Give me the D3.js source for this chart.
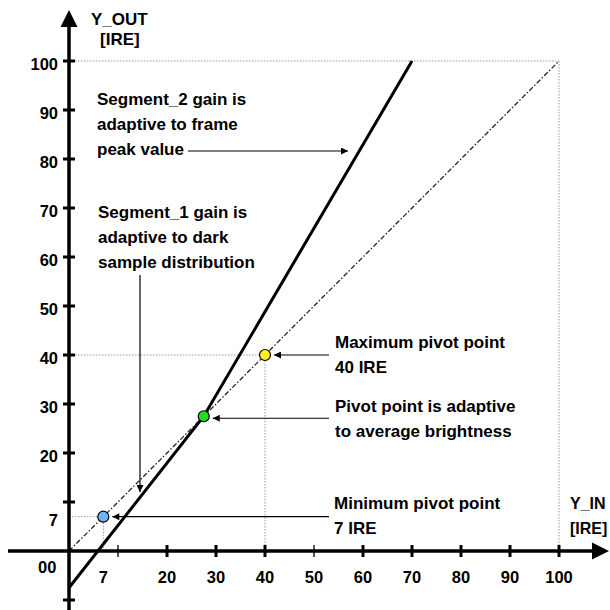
<!DOCTYPE html>
<html>
<head>
<meta charset="utf-8">
<script src="https://cdn.jsdelivr.net/npm/d3@7"></script>
<style>
    body { margin: 0; background: #fff; }
    svg text { font-family: Arial, 'Liberation Sans', sans-serif; font-weight: bold; fill: #000; }
</style>
</head>
<body>
<svg id="chart"></svg>
<script>
// values (IRE)
const xTicks = [10, 20, 30, 40, 50, 60, 70, 80, 90, 100];
const xThinTicks = [10, 50];
const xLabels = [7, 20, 30, 40, 50, 60, 70, 80, 90, 100];
const yTicks = [-10, 10, 20, 30, 40, 50, 60, 70, 80, 90, 100];
const yLabels = [7, 20, 30, 40, 50, 60, 70, 80, 90, 100];
const identityLine = [[0, 0], [100, 100]];
const gainCurve = [[0, -7.5], [27.5, 27.5], [70, 100]];
const pivots = [
    { name: 'min', value: 7, color: '#6cb4f2' },
    { name: 'pivot', value: 27.5, color: '#22dd22' },
    { name: 'max', value: 40, color: '#ffee22' }
];

const width = 610, height = 610;
const svg = d3.select('#chart')
    .attr('width', width)
    .attr('height', height);

const scales = {
    x: d3.scaleLinear().domain([0, 100]).range([69, 559]),
    y: d3.scaleLinear().domain([0, 100]).range([551, 61])
};
const x = scales.x, y = scales.y;

const defs = svg.append('defs');
defs.append('marker')
    .attr('id', 'arrow')
    .attr('viewBox', '0 0 10 10')
    .attr('refX', 10).attr('refY', 5)
    .attr('markerUnits', 'userSpaceOnUse')
    .attr('markerWidth', 8).attr('markerHeight', 7)
    .attr('orient', 'auto')
    .append('path')
    .attr('d', 'M0,0 L10,5 L0,10 Z')
    .attr('fill', '#000');

// dotted guide lines
const guides = [
    [[0, 100], [100, 100]],
    [[100, 100], [100, 0]]
];
pivots.filter(p => p.name !== 'pivot').forEach(p => {
    guides.push([[0, p.value], [p.value, p.value]]);
    guides.push([[p.value, p.value], [p.value, 0]]);
});
const line = d3.line().x(d => x(d[0])).y(d => y(d[1]));

svg.append('g')
    .selectAll('path')
    .data(guides)
    .join('path')
    .attr('d', line)
    .attr('fill', 'none')
    .attr('stroke', '#999')
    .attr('stroke-width', 1)
    .attr('stroke-dasharray', '1.5,1.5');

// identity (dash-dot)
svg.append('path')
    .datum(identityLine)
    .attr('d', line)
    .attr('fill', 'none')
    .attr('stroke', '#222')
    .attr('stroke-width', 1.3)
    .attr('stroke-dasharray', '5,2,1.5,2');

// axes
const elAxes = svg.append('g').classed('axes', true);
elAxes.append('line')
    .attr('x1', 8).attr('x2', width - 16)
    .attr('y1', y(0)).attr('y2', y(0))
    .attr('stroke', '#000').attr('stroke-width', 3.5);
elAxes.append('path')
    .attr('d', `M${width - 1},${y(0)} L${width - 18},${y(0) - 8.5} L${width - 18},${y(0) + 8.5} Z`)
    .attr('fill', '#000');
elAxes.append('line')
    .attr('x1', x(0)).attr('x2', x(0))
    .attr('y1', 26).attr('y2', height)
    .attr('stroke', '#000').attr('stroke-width', 3.5);
elAxes.append('path')
    .attr('d', `M${x(0)},10 L${x(0) - 8.5},27 L${x(0) + 8.5},27 Z`)
    .attr('fill', '#000');

elAxes.append('g')
    .selectAll('line')
    .data(xTicks)
    .join('line')
    .attr('x1', d => x(d)).attr('x2', d => x(d))
    .attr('y1', y(0) - 6).attr('y2', y(0) + 6)
    .attr('stroke', '#000')
    .attr('stroke-width', d => xThinTicks.includes(d) ? 1.3 : 3);

elAxes.append('g')
    .selectAll('line')
    .data(yTicks)
    .join('line')
    .attr('x1', x(0) - 6).attr('x2', x(0) + 6)
    .attr('y1', d => y(d)).attr('y2', d => y(d))
    .attr('stroke', '#000')
    .attr('stroke-width', 3);

elAxes.append('g')
    .selectAll('text')
    .data(xLabels)
    .join('text')
    .attr('x', d => x(d))
    .attr('y', y(0) + 32)
    .attr('text-anchor', 'middle')
    .style('font-size', '16.5px')
    .text(d => d);

elAxes.append('g')
    .selectAll('text')
    .data(yLabels)
    .join('text')
    .attr('x', x(0) - 11)
    .attr('y', d => y(d) + 9)
    .attr('text-anchor', 'end')
    .style('font-size', '16.5px')
    .text(d => d);

elAxes.append('text')
    .attr('x', 38).attr('y', y(0) + 22)
    .style('font-size', '16.5px')
    .text('00');

// gain curve
svg.append('path')
    .datum(gainCurve)
    .attr('d', line)
    .attr('fill', 'none')
    .attr('stroke', '#000')
    .attr('stroke-width', 3);

// pivot points
svg.append('g')
    .selectAll('circle')
    .data(pivots)
    .join('circle')
    .attr('cx', d => x(d.value))
    .attr('cy', d => y(d.value))
    .attr('r', 5.5)
    .attr('fill', d => d.color)
    .attr('stroke', '#000')
    .attr('stroke-width', 1.2);

// annotation arrows
const arrows = [
    [[188, 151], [348, 151]],
    [[140, 275], [140, 492]]
];
pivots.forEach(p => {
    const py = y(p.value) + (p.name === 'pivot' ? 2 : 0);
    arrows.push([[329, py], [x(p.value) + 9, py]]);
});
svg.append('g')
    .selectAll('line')
    .data(arrows)
    .join('line')
    .attr('x1', d => d[0][0]).attr('y1', d => d[0][1])
    .attr('x2', d => d[1][0]).attr('y2', d => d[1][1])
    .attr('stroke', '#000')
    .attr('stroke-width', 1.2)
    .attr('marker-end', 'url(#arrow)');

// texts
const notes = [
    { x: 97, y: 105, lines: ['Segment_2 gain is', 'adaptive to frame', 'peak value'] },
    { x: 98, y: 218, lines: ['Segment_1 gain is', 'adaptive to dark', 'sample distribution'] },
    { x: 335, y: 348, lines: ['Maximum pivot point', '40 IRE'] },
    { x: 335, y: 412, lines: ['Pivot point is adaptive', 'to average brightness'] },
    { x: 334, y: 509, lines: ['Minimum pivot point', '7 IRE'] },
    { x: 570, y: 509, lines: ['Y_IN', '[IRE]'] }
];
notes.forEach(n => {
    const t = svg.append('text')
        .attr('x', n.x).attr('y', n.y)
        .style('font-size', n.lines[0] === 'Y_IN' ? '16px' : '17px');
    n.lines.forEach((l, i) => {
        t.append('tspan')
            .attr('x', n.x)
            .attr('dy', i === 0 ? 0 : 25)
            .text(l);
    });
});

svg.append('text').attr('x', 91).attr('y', 25).style('font-size', '17px').text('Y_OUT');
svg.append('text').attr('x', 100).attr('y', 45).style('font-size', '17px').text('[IRE]');
</script>
</body>
</html>
